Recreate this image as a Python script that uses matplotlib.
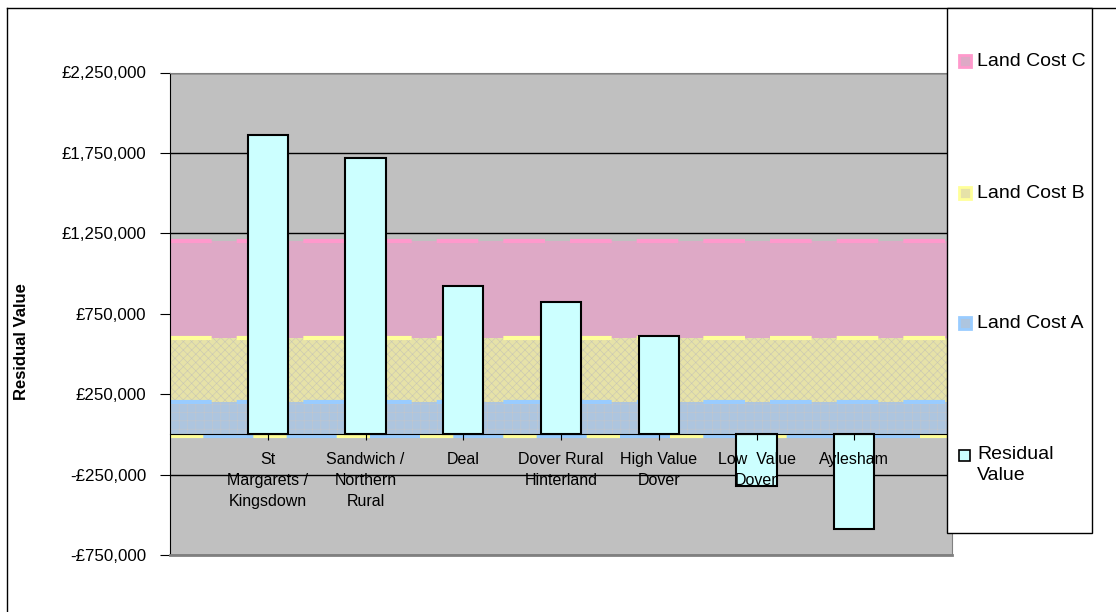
import numpy as np
import matplotlib
matplotlib.use("Agg")
import matplotlib.pyplot as plt
from matplotlib.patches import Rectangle
from matplotlib.lines import Line2D
from matplotlib.ticker import FuncFormatter

# ---------------- data ----------------
categories = ["St\nMargarets /\nKingsdown", "Sandwich /\nNorthern\nRural", "Deal",
              "Dover Rural\nHinterland", "High Value\nDover", "Low  Value\nDover", "Aylesham"]
residual_value = [1860000, 1720000, 925000, 820000, 610000, -320000, -590000]
land_cost_a = [200000, 200000, 200000, 200000, 200000, 200000, 200000]
land_cost_b = [400000, 400000, 400000, 400000, 400000, 400000, 400000]
land_cost_c = [600000, 600000, 600000, 600000, 600000, 600000, 600000]
y_ticks = [-750000, -250000, 250000, 750000, 1250000, 1750000, 2250000]
legend_labels = ["Land Cost C", "Land Cost B", "Land Cost A", "Residual\nValue"]

plt.rcParams['font.family'] = ['Liberation Sans', 'DejaVu Sans']
plt.rcParams['hatch.linewidth'] = 0.4

W, H = 1116, 612
fig = plt.figure(figsize=(W / 100, H / 100), dpi=100)
fig.patch.set_facecolor('white')

ax = fig.add_axes([170 / W, 1 - 555 / H, (952 - 170) / W, (555 - 72.5) / H])
ax.set_facecolor('#C0C0C0')

n = len(categories)
x = np.arange(1, n + 1)
ax.set_xlim(0, n + 1)
ax.set_ylim(y_ticks[0], y_ticks[-1])

# stacked areas spanning the full category axis
xa = np.concatenate([[0], x, [n + 1]])


def pad(v):
    v = np.asarray(v, dtype=float)
    return np.concatenate([[v[0]], v, [v[-1]]])


a_top = pad(land_cost_a)
b_top = a_top + pad(land_cost_b)
c_top = b_top + pad(land_cost_c)

fill_a, edge_a = '#ADC5DF', '#99CCFF'
fill_b, edge_b = '#E6E2A8', '#FFFF99'
fill_c, edge_c = '#DEA9C6', '#FF99CC'

ax.fill_between(xa, 0, a_top, facecolor=fill_a, edgecolor='#C2C6CC', hatch='++', lw=0, zorder=1)
ax.fill_between(xa, a_top, b_top, facecolor=fill_b, edgecolor='#C8C6B4', hatch='xxxx', lw=0, zorder=1)
ax.fill_between(xa, b_top, c_top, facecolor=fill_c, lw=0, zorder=1)

for top, col in [(a_top, edge_a), (b_top, edge_b), (c_top, edge_c)]:
    ax.plot(xa, top, color=col, lw=3, dashes=(10, 6), zorder=1.2, solid_capstyle='butt')
shift = matplotlib.transforms.ScaledTranslation(0, -2 / 100, fig.dpi_scale_trans)
ax.plot(xa, np.zeros_like(xa), color=edge_a, lw=3, zorder=1.1, transform=ax.transData + shift)
ax.plot(xa, np.zeros_like(xa), color=edge_b, lw=3, dashes=(8, 12), zorder=1.15,
        transform=ax.transData + shift)

# gridlines (below areas)
for t in y_ticks:
    ax.axhline(t, color='black', lw=1, zorder=0.5)

# bars
ax.bar(x, residual_value, width=0.41, color='#CCFFFF', edgecolor='black', lw=1.5, zorder=2)

# spines
ax.spines['left'].set_color('black')
ax.spines['top'].set_color('#808080')
ax.spines['right'].set_color('#808080')
ax.spines['bottom'].set_position(('data', 0))
ax.spines['bottom'].set_color('black')
ax.spines['bottom'].set_zorder(2.6)
ax.axhline(y_ticks[0], color='#808080', lw=2, zorder=3, clip_on=False)

# ticks
ax.set_xticks(x, categories)
ax.tick_params(axis='x', length=4, direction='out', pad=9, labelsize=11.5, colors='black')
for lbl in ax.get_xticklabels():
    lbl.set_linespacing(1.5)
ax.xaxis.set_zorder(4)

ax.set_yticks(y_ticks)
ax.yaxis.set_major_formatter(FuncFormatter(
    lambda v, _: ('-' if v < 0 else '') + '£{:,.0f}'.format(abs(v))))
ax.tick_params(axis='y', length=7, direction='out', pad=10, labelsize=12.2, colors='black')

fig.text(22 / W, 1 - 342 / H, 'Residual Value', rotation=90, fontweight='bold',
         fontsize=12, ha='center', va='center')

# outer chart border
fig.add_artist(Line2D([7 / W, 7 / W], [0, 1 - 8 / H], color='black', lw=1))
fig.add_artist(Line2D([7 / W, 1], [1 - 8 / H, 1 - 8 / H], color='black', lw=1))

# legend box
fig.add_artist(Rectangle((947 / W, 1 - 533 / H), (1092 - 947) / W, (533 - 8) / H,
                         transform=fig.transFigure, facecolor='white', edgecolor='black',
                         lw=1, zorder=5))
legend_y = [61, 193, 323, 465]
legend_face = [fill_c, fill_b, fill_a, '#CCFFFF']
legend_edge = [edge_c, edge_b, edge_a, 'black']
for lab, yy, fc, ec in zip(legend_labels, legend_y, legend_face, legend_edge):
    sq_y = yy if '\n' not in lab else 455
    size = 12 if ec != 'black' else 11
    fig.add_artist(Rectangle((959 / W, 1 - (sq_y + size / 2) / H), size / W, size / H,
                             transform=fig.transFigure, facecolor=fc, edgecolor=ec,
                             lw=2 if ec != 'black' else 1.2, zorder=6))
    fig.text(977 / W, 1 - yy / H, lab, fontsize=14, ha='left', va='center',
             linespacing=1.3, zorder=6)

fig.savefig('out.png', dpi=100)
